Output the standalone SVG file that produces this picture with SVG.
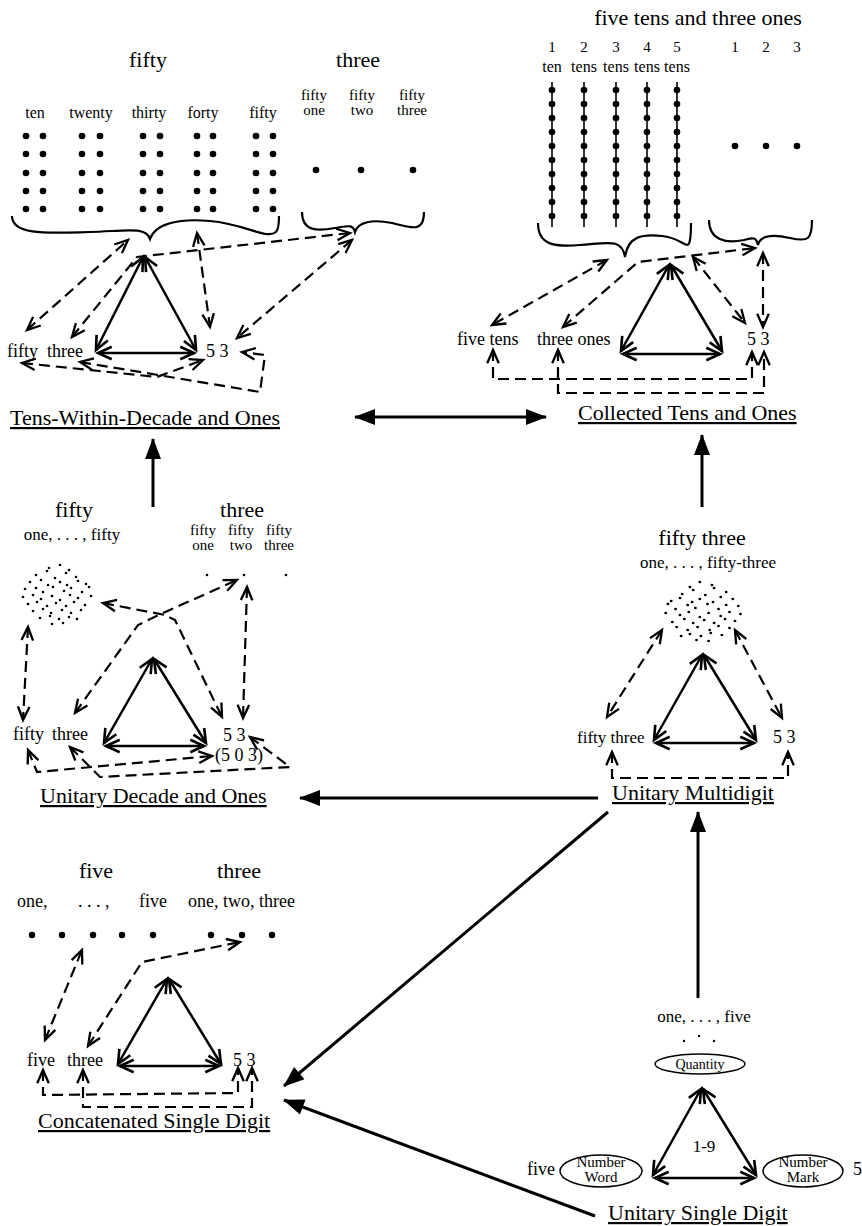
<svg xmlns="http://www.w3.org/2000/svg" xmlns:xlink="http://www.w3.org/1999/xlink" width="862" height="1226" viewBox="0 0 862 1226">
<style>
.t{font-family:"Liberation Serif","Times New Roman",serif;fill:#000}
.ti{font-size:22px}
.lb{font-size:18px}
.sm{font-size:16px}
.xs{font-size:15px}
.u{text-decoration:underline}
.m{text-anchor:middle}
.tri{stroke:#000;stroke-width:2.5;fill:none;marker-start:url(#va);marker-end:url(#va)}
.dash{stroke:#000;stroke-width:2.2;fill:none;stroke-dasharray:11 6;marker-start:url(#vd);marker-end:url(#vd)}
.brace{stroke:#000;stroke-width:2.2;fill:none}
.big{stroke:#000;stroke-width:3;fill:none}
.bead{stroke:#000;stroke-width:1.6}
.ell{stroke:#000;stroke-width:1.5;fill:#fff}
</style>
<defs>
<marker id="va" markerUnits="userSpaceOnUse" markerWidth="16" markerHeight="16" viewBox="0 0 14 12" refX="12.5" refY="6" orient="auto-start-reverse" overflow="visible">
<path d="M0.5,0.5 L12.5,6 L0.5,11.5" fill="none" stroke="#000" stroke-width="2.3"/>
</marker>
<marker id="vd" markerUnits="userSpaceOnUse" markerWidth="15" markerHeight="13" viewBox="0 0 13 11" refX="12" refY="5.5" orient="auto-start-reverse" overflow="visible">
<path d="M0.5,0.5 L12,5.5 L0.5,10.5" fill="none" stroke="#000" stroke-width="2"/>
</marker>
<marker id="fa" markerUnits="userSpaceOnUse" markerWidth="22" markerHeight="16" viewBox="0 0 22 16" refX="20" refY="8" orient="auto-start-reverse" overflow="visible">
<path d="M0,0 L21,8 L0,16 Z" fill="#000"/>
</marker>
<g id="cloud" fill="#000">
<circle cx="-9" cy="-25" r="1.3"/><circle cx="2" cy="-28" r="1.3"/><circle cx="11" cy="-23" r="1.3"/>
<circle cx="-22" cy="-18" r="1.3"/><circle cx="-11" cy="-22" r="1.3"/><circle cx="-3" cy="-15" r="1.3"/><circle cx="8" cy="-20" r="1.3"/><circle cx="18" cy="-16" r="1.3"/>
<circle cx="-28" cy="-11" r="1.3"/><circle cx="-17" cy="-13" r="1.3"/><circle cx="-10" cy="-8" r="1.3"/><circle cx="2" cy="-11" r="1.3"/><circle cx="9" cy="-8" r="1.3"/><circle cx="20" cy="-12" r="1.3"/><circle cx="28" cy="-9" r="1.3"/>
<circle cx="-33" cy="-4" r="1.3"/><circle cx="-22" cy="-5" r="1.3"/><circle cx="-15" cy="-1" r="1.3"/><circle cx="-5" cy="-6" r="1.3"/><circle cx="6" cy="-2" r="1.3"/><circle cx="13" cy="-5" r="1.3"/><circle cx="24" cy="-1" r="1.3"/><circle cx="31" cy="-6" r="1.3"/>
<circle cx="-35" cy="4" r="1.3"/><circle cx="-25" cy="2" r="1.3"/><circle cx="-17" cy="6" r="1.3"/><circle cx="-6" cy="3" r="1.3"/><circle cx="2" cy="7" r="1.3"/><circle cx="12" cy="2" r="1.3"/><circle cx="20" cy="5" r="1.3"/><circle cx="33" cy="3" r="1.3"/>
<circle cx="-30" cy="11" r="1.3"/><circle cx="-21" cy="9" r="1.3"/><circle cx="-11" cy="13" r="1.3"/><circle cx="-2" cy="10" r="1.3"/><circle cx="8" cy="13" r="1.3"/><circle cx="16" cy="9" r="1.3"/><circle cx="27" cy="12" r="1.3"/>
<circle cx="-25" cy="18" r="1.3"/><circle cx="-15" cy="16" r="1.3"/><circle cx="-7" cy="20" r="1.3"/><circle cx="4" cy="17" r="1.3"/><circle cx="13" cy="20" r="1.3"/><circle cx="23" cy="17" r="1.3"/>
<circle cx="-18" cy="25" r="1.3"/><circle cx="-8" cy="23" r="1.3"/><circle cx="1" cy="26" r="1.3"/><circle cx="11" cy="24" r="1.3"/><circle cx="19" cy="26" r="1.3"/>
<circle cx="-6" cy="31" r="1.3"/><circle cx="5" cy="30" r="1.3"/>
</g>
</defs>
<rect width="862" height="1226" fill="#fff"/>

<!-- Tens-Within-Decade and Ones -->
<g id="tens-within-decade">
<text class="t ti m" x="148" y="67">fifty</text>
<text class="t ti m" x="358" y="67">three</text>
<g class="t sm m">
<text x="35" y="118">ten</text><text x="91" y="118">twenty</text><text x="149" y="118">thirty</text><text x="203" y="118">forty</text><text x="263" y="118">fifty</text>
</g>
<g class="t xs m">
<text x="314" y="100">fifty</text><text x="314" y="115">one</text>
<text x="362" y="100">fifty</text><text x="362" y="115">two</text>
<text x="412" y="100">fifty</text><text x="412" y="115">three</text>
</g>
<g fill="#000">
<circle cx="26" cy="136" r="3.3"/><circle cx="43" cy="136" r="3.3"/><circle cx="26" cy="154" r="3.3"/><circle cx="43" cy="154" r="3.3"/><circle cx="26" cy="173" r="3.3"/><circle cx="43" cy="173" r="3.3"/><circle cx="26" cy="191" r="3.3"/><circle cx="43" cy="191" r="3.3"/><circle cx="26" cy="209" r="3.3"/><circle cx="43" cy="209" r="3.3"/>
<circle cx="82" cy="136" r="3.3"/><circle cx="100" cy="136" r="3.3"/><circle cx="82" cy="154" r="3.3"/><circle cx="100" cy="154" r="3.3"/><circle cx="82" cy="173" r="3.3"/><circle cx="100" cy="173" r="3.3"/><circle cx="82" cy="191" r="3.3"/><circle cx="100" cy="191" r="3.3"/><circle cx="82" cy="209" r="3.3"/><circle cx="100" cy="209" r="3.3"/>
<circle cx="143" cy="136" r="3.3"/><circle cx="160" cy="136" r="3.3"/><circle cx="143" cy="154" r="3.3"/><circle cx="160" cy="154" r="3.3"/><circle cx="143" cy="173" r="3.3"/><circle cx="160" cy="173" r="3.3"/><circle cx="143" cy="191" r="3.3"/><circle cx="160" cy="191" r="3.3"/><circle cx="143" cy="209" r="3.3"/><circle cx="160" cy="209" r="3.3"/>
<circle cx="197" cy="136" r="3.3"/><circle cx="213" cy="136" r="3.3"/><circle cx="197" cy="154" r="3.3"/><circle cx="213" cy="154" r="3.3"/><circle cx="197" cy="173" r="3.3"/><circle cx="213" cy="173" r="3.3"/><circle cx="197" cy="191" r="3.3"/><circle cx="213" cy="191" r="3.3"/><circle cx="197" cy="209" r="3.3"/><circle cx="213" cy="209" r="3.3"/>
<circle cx="256" cy="136" r="3.3"/><circle cx="273" cy="136" r="3.3"/><circle cx="256" cy="154" r="3.3"/><circle cx="273" cy="154" r="3.3"/><circle cx="256" cy="173" r="3.3"/><circle cx="273" cy="173" r="3.3"/><circle cx="256" cy="191" r="3.3"/><circle cx="273" cy="191" r="3.3"/><circle cx="256" cy="209" r="3.3"/><circle cx="273" cy="209" r="3.3"/>
<circle cx="316" cy="170" r="3.3"/><circle cx="361" cy="170" r="3.3"/><circle cx="413" cy="170" r="3.3"/>
</g>
<path class="brace" d="M12,216 C12,236 50,233 90,232 C125,231 146,226 150,239 C155,224 178,218 210,221 C246,224 266,240 276,232 C279,229 279,222 279,216"/>
<path class="brace" d="M302,212 C302,232 318,231 335,228 C348,226 353,224 355,232 C358,222 372,219 392,223 C412,228 424,233 424,212"/>
<line class="tri" x1="143" y1="257" x2="96" y2="350"/>
<line class="tri" x1="145" y1="257" x2="196" y2="350"/>
<line class="tri" x1="98" y1="353" x2="194" y2="353"/>
<text class="t lb" x="7" y="357">fifty</text>
<text class="t lb" x="47" y="357">three</text>
<text class="t lb" x="206" y="357">5 3</text>
<polyline class="dash" points="27,330 128,240"/>
<polyline class="dash" points="72,337 137,257 350,233"/>
<polyline class="dash" points="197,233 210,327"/>
<polyline class="dash" points="352,240 237,338"/>
<polyline class="dash" points="22,363 157,377 203,360"/>
<polyline class="dash" points="80,362 260,392 265,355 242,352"/>
<text class="t ti u" x="10" y="425">Tens-Within-Decade and Ones</text>
</g>

<!-- Collected Tens and Ones -->
<g id="collected-tens">
<text class="t ti m" x="698" y="25">five tens and three ones</text>
<g class="t xs m">
<text x="552" y="52">1</text><text x="584" y="52">2</text><text x="616" y="52">3</text><text x="647" y="52">4</text><text x="677" y="52">5</text>
<text x="735" y="52">1</text><text x="766" y="52">2</text><text x="797" y="52">3</text>
</g>
<g class="t sm m">
<text x="552" y="72">ten</text><text x="584" y="72">tens</text><text x="616" y="72">tens</text><text x="647" y="72">tens</text><text x="677" y="72">tens</text>
</g>
<g id="rods">
<g id="rod">
<line class="bead" x1="552" y1="82" x2="552" y2="227"/>
<g fill="#000"><circle cx="552" cy="90" r="3.3"/><circle cx="552" cy="104" r="3.3"/><circle cx="552" cy="118" r="3.3"/><circle cx="552" cy="132" r="3.3"/><circle cx="552" cy="146" r="3.3"/><circle cx="552" cy="160" r="3.3"/><circle cx="552" cy="174" r="3.3"/><circle cx="552" cy="188" r="3.3"/><circle cx="552" cy="202" r="3.3"/><circle cx="552" cy="216" r="3.3"/></g>
</g>
<use xlink:href="#rod" href="#rod" x="32"/>
<use xlink:href="#rod" href="#rod" x="64"/>
<use xlink:href="#rod" href="#rod" x="95"/>
<use xlink:href="#rod" href="#rod" x="125"/>
</g>
<g fill="#000"><circle cx="735" cy="146" r="3.3"/><circle cx="766" cy="146" r="3.3"/><circle cx="797" cy="146" r="3.3"/></g>
<path class="brace" d="M538,223 C538,246 556,247 580,245 C608,243 622,238 625,257 C628,236 642,234 662,236 C683,238 688,252 690,240 C691,234 691,228 691,223"/>
<path class="brace" d="M709,220 C709,240 726,244 744,240 C752,238 756,236 758,245 C760,236 772,234 790,238 C808,242 812,240 812,220"/>
<line class="tri" x1="669" y1="265" x2="621" y2="351"/>
<line class="tri" x1="671" y1="265" x2="722" y2="351"/>
<line class="tri" x1="623" y1="354" x2="720" y2="354"/>
<text class="t lb" x="457" y="345">five tens</text>
<text class="t lb" x="537" y="345">three ones</text>
<text class="t lb" x="747" y="345">5 3</text>
<polyline class="dash" points="607,260 492,325"/>
<polyline class="dash" points="563,327 638,262 755,248"/>
<polyline class="dash" points="693,257 745,323"/>
<polyline class="dash" points="763,253 763,327"/>
<polyline class="dash" points="493,350 493,379 752,379 752,352"/>
<polyline class="dash" points="558,350 558,393 764,393 764,352"/>
<text class="t ti u" x="578" y="420">Collected Tens and Ones</text>
</g>

<!-- Unitary Decade and Ones -->
<g id="unitary-decade">
<text class="t ti m" x="74" y="517">fifty</text>
<text class="t ti m" x="242" y="517">three</text>
<text class="t m" style="font-size:17px" x="72" y="540">one, . . . , fifty</text>
<g class="t xs m">
<text x="203" y="535">fifty</text><text x="203" y="550">one</text>
<text x="241" y="535">fifty</text><text x="241" y="550">two</text>
<text x="279" y="535">fifty</text><text x="279" y="550">three</text>
</g>
<use xlink:href="#cloud" href="#cloud" transform="translate(58,593)"/>
<g fill="#000"><circle cx="207" cy="575" r="1.3"/><circle cx="244" cy="575" r="1.3"/><circle cx="286" cy="575" r="1.3"/></g>
<line class="tri" x1="152" y1="659" x2="104" y2="743"/>
<line class="tri" x1="154" y1="659" x2="206" y2="743"/>
<line class="tri" x1="106" y1="746" x2="204" y2="746"/>
<text class="t lb" x="13" y="740">fifty</text>
<text class="t lb" x="52" y="740">three</text>
<text class="t lb" x="223" y="741">5 3</text>
<text class="t lb" x="215" y="761">(5 0 3)</text>
<polyline class="dash" points="28,627 23,720"/>
<polyline class="dash" points="75,713 138,625 163,613 237,580"/>
<polyline class="dash" points="103,603 165,615 175,620 222,717"/>
<polyline class="dash" points="247,587 243,718"/>
<polyline class="dash" points="28,750 37,772 212,756"/>
<polyline class="dash" points="70,747 100,777 290,767 250,737"/>
<text class="t ti u" x="40" y="803">Unitary Decade and Ones</text>
</g>

<!-- Unitary Multidigit -->
<g id="unitary-multidigit">
<text class="t ti m" x="702" y="545">fifty three</text>
<text class="t m" style="font-size:17px" x="708" y="568">one, . . . , fifty-three</text>
<use xlink:href="#cloud" href="#cloud" transform="translate(702,610) scale(-1.1,1)"/>
<line class="tri" x1="702" y1="655" x2="654" y2="740"/>
<line class="tri" x1="704" y1="655" x2="756" y2="740"/>
<line class="tri" x1="656" y1="743" x2="754" y2="743"/>
<text class="t" style="font-size:17px" x="577" y="743">fifty three</text>
<text class="t lb" x="773" y="743">5 3</text>
<polyline class="dash" points="662,630 607,717"/>
<polyline class="dash" points="735,630 782,718"/>
<polyline class="dash" points="612,752 612,778 788,778 788,752"/>
<text class="t ti u" x="612" y="800">Unitary Multidigit</text>
</g>

<!-- Concatenated Single Digit -->
<g id="concatenated-single">
<text class="t ti m" x="96" y="878">five</text>
<text class="t ti m" x="239" y="878">three</text>
<text class="t lb" x="17" y="907">one,</text>
<text class="t lb" x="78" y="907">. . . ,</text>
<text class="t lb" x="139" y="907">five</text>
<text class="t lb" x="188" y="907">one, two, three</text>
<g fill="#000">
<circle cx="32" cy="935" r="3.2"/><circle cx="62" cy="935" r="3.2"/><circle cx="93" cy="935" r="3.2"/><circle cx="122" cy="935" r="3.2"/><circle cx="153" cy="935" r="3.2"/><circle cx="211" cy="935" r="3.2"/><circle cx="242" cy="935" r="3.2"/><circle cx="272" cy="935" r="3.2"/>
</g>
<line class="tri" x1="167" y1="979" x2="118" y2="1064"/>
<line class="tri" x1="169" y1="979" x2="221" y2="1064"/>
<line class="tri" x1="120" y1="1066" x2="219" y2="1066"/>
<text class="t lb" x="27" y="1066">five</text>
<text class="t lb" x="67" y="1066">three</text>
<text class="t lb" x="233" y="1066">5 3</text>
<polyline class="dash" points="45,1040 82,950"/>
<polyline class="dash" points="88,1046 142,962 240,942"/>
<polyline class="dash" points="43,1070 43,1095 238,1093 238,1068"/>
<polyline class="dash" points="83,1070 83,1107 252,1107 252,1068"/>
<text class="t ti u" x="38" y="1128">Concatenated Single Digit</text>
</g>

<!-- Unitary Single Digit -->
<g id="unitary-single">
<text class="t m" style="font-size:17px" x="704" y="1022">one, . . . , five</text>
<g fill="#000"><circle cx="684" cy="1041" r="1.2"/><circle cx="699" cy="1036" r="1.2"/><circle cx="714" cy="1041" r="1.2"/></g>
<ellipse class="ell" cx="700" cy="1064" rx="45" ry="10"/>
<text class="t m" style="font-size:14px" x="700" y="1069">Quantity</text>
<line class="tri" x1="701" y1="1089" x2="653" y2="1175"/>
<line class="tri" x1="703" y1="1089" x2="756" y2="1175"/>
<line class="tri" x1="655" y1="1178" x2="754" y2="1178"/>
<text class="t m" style="font-size:17px" x="704" y="1152">1-9</text>
<ellipse class="ell" cx="601" cy="1171" rx="41" ry="16"/>
<text class="t xs m" x="601" y="1167">Number</text>
<text class="t xs m" x="601" y="1182">Word</text>
<text class="t lb" x="527" y="1175">five</text>
<ellipse class="ell" cx="803" cy="1171" rx="40" ry="16"/>
<text class="t xs m" x="803" y="1167">Number</text>
<text class="t xs m" x="803" y="1182">Mark</text>
<text class="t lb" x="853" y="1175">5</text>
<text class="t ti u" x="608" y="1220">Unitary Single Digit</text>
</g>

<!-- Connectors between representations -->
<g id="connectors">
<line class="big" x1="355" y1="417" x2="546" y2="417" marker-start="url(#fa)" marker-end="url(#fa)"/>
<line class="big" x1="153" y1="507" x2="153" y2="439" marker-end="url(#fa)"/>
<line class="big" x1="702" y1="507" x2="702" y2="435" marker-end="url(#fa)"/>
<line class="big" x1="598" y1="798" x2="300" y2="798" marker-end="url(#fa)"/>
<line class="big" x1="698" y1="998" x2="698" y2="812" marker-end="url(#fa)"/>
<line class="big" x1="608" y1="812" x2="284" y2="1086" marker-end="url(#fa)"/>
<line class="big" x1="595" y1="1216" x2="284" y2="1100" marker-end="url(#fa)"/>
</g>
</svg>
